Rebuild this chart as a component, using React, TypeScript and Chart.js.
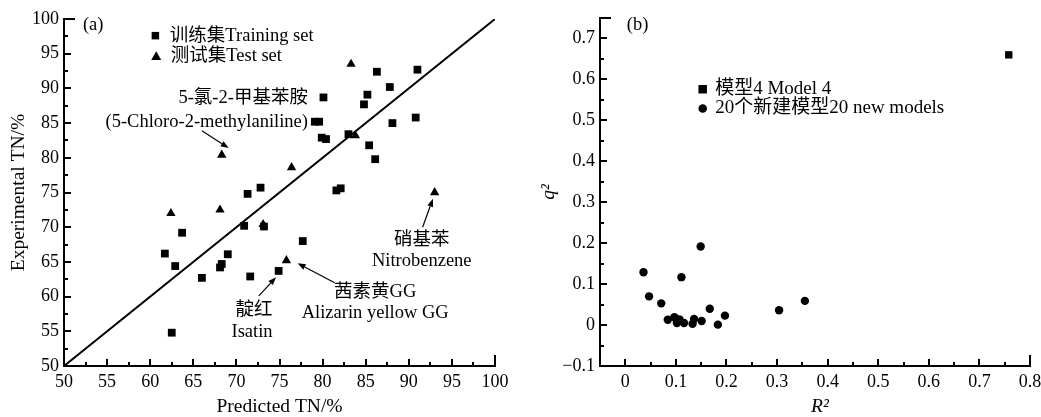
import React, { useEffect, useRef } from 'react';
import { Chart, registerables } from 'chart.js';

Chart.register(...registerables);

const FONT = "'Liberation Serif', 'Noto Sans CJK SC', serif";

// ---------- Panel (a) data ----------
const trainingPredicted = [62.5, 61.7, 62.9, 63.7, 66.0, 68.1, 68.3, 69.0, 71.6, 70.9, 74.9, 77.7, 73.2, 71.3, 72.8, 81.6, 82.1, 80.1, 79.1, 79.6, 79.9, 80.4, 86.3, 91.0, 87.8, 85.2, 84.8, 88.1, 90.8, 83.0, 85.4, 86.1];
const trainingExperimental = [54.8, 66.2, 64.4, 69.2, 62.7, 64.2, 64.7, 66.1, 62.9, 70.2, 63.7, 68.0, 70.1, 74.8, 75.7, 75.3, 75.6, 88.7, 85.2, 85.2, 82.9, 82.7, 92.4, 92.7, 90.2, 89.1, 87.7, 85.0, 85.8, 83.4, 81.8, 79.8];
const testPredicted = [62.4, 68.1, 68.3, 73.1, 75.8, 76.4, 83.3, 83.8, 93.0];
const testExperimental = [72.0, 72.5, 80.4, 70.4, 65.2, 78.6, 93.5, 83.2, 75.0];
const identityLine = [50, 100];
const axisARange = [50, 100];
const axisAStep = 5;

// ---------- Panel (b) data ----------
const newModelR2 = [0.036, 0.047, 0.071, 0.084, 0.097, 0.102, 0.107, 0.116, 0.111, 0.133, 0.136, 0.151, 0.149, 0.167, 0.183, 0.197, 0.304, 0.355];
const newModelQ2 = [0.129, 0.070, 0.053, 0.013, 0.019, 0.005, 0.014, 0.005, 0.117, 0.003, 0.015, 0.010, 0.192, 0.040, 0.001, 0.023, 0.036, 0.059];
const model4R2 = [0.758];
const model4Q2 = [0.660];
const axisBXRange = [-0.05, 0.8];
const axisBYRange = [-0.1, 0.75];
const axisBStep = 0.1;

// ---------- Annotations (data coordinates) ----------
const leftNotes = [
  { text: '(a)', x: 52.2, y: 99.1, align: 'left' },
  { text: '5-氯-2-甲基苯胺', x: 78.3, y: 88.6, align: 'right' },
  { text: '(5-Chloro-2-methylaniline)', x: 78.3, y: 85.2, align: 'right' },
  { text: '硝基苯', x: 91.5, y: 68.2, align: 'center' },
  { text: 'Nitrobenzene', x: 91.5, y: 65.1, align: 'center' },
  { text: '茜素黄GG', x: 86.1, y: 60.7, align: 'center' },
  { text: 'Alizarin yellow GG', x: 86.1, y: 57.6, align: 'center' },
  { text: '靛红', x: 74.2, y: 58.1, align: 'right' },
  { text: 'Isatin', x: 74.2, y: 54.9, align: 'right' },
];
const leftArrows = [
  { from: [66.0, 83.9], to: [69.1, 81.4] },
  { from: [91.6, 70.0], to: [92.8, 74.1] },
  { from: [81.4, 62.0], to: [77.1, 64.8] },
  { from: [72.6, 60.1], to: [74.6, 62.8] },
];
const leftLegend = [
  { marker: 'rect', x: 60.6, y: 97.6, text: '训练集Training set' },
  { marker: 'triangle', x: 60.7, y: 94.6, text: '测试集Test set' },
];
const rightNotes = [{ text: '(b)', x: 0.003, y: 0.732, align: 'left' }];
const rightArrows: any[] = [];
const rightLegend = [
  { marker: 'rect', x: 0.153, y: 0.576, text: '模型4 Model 4' },
  { marker: 'circle', x: 0.153, y: 0.529, text: '20个新建模型20 new models' },
];

function drawMarker(ctx: CanvasRenderingContext2D, kind: string, x: number, y: number, s: number) {
  ctx.beginPath();
  if (kind === 'rect') {
    ctx.rect(x - s / 2, y - s / 2, s, s);
  } else if (kind === 'triangle') {
    const h = s * 0.866;
    ctx.moveTo(x, y - h * 0.6);
    ctx.lineTo(x + s / 2, y + h * 0.4);
    ctx.lineTo(x - s / 2, y + h * 0.4);
    ctx.closePath();
  } else {
    ctx.arc(x, y, s / 2, 0, Math.PI * 2);
  }
  ctx.fill();
}

const decorPlugin = {
  id: 'decor',
  afterDraw(chart: any, _args: any, opts: any) {
    const ctx: CanvasRenderingContext2D = chart.ctx;
    const xs = chart.scales.x;
    const ys = chart.scales.y;
    const area = chart.chartArea;
    ctx.save();
    ctx.strokeStyle = '#000';
    ctx.fillStyle = '#000';
    ctx.lineWidth = 2;
    // inward major / minor ticks
    const drawTicks = (scale: any, minor: number, horizontal: boolean) => {
      const k0 = Math.ceil(scale.min / minor - 1e-6);
      const k1 = Math.floor(scale.max / minor + 1e-6);
      for (let k = k0; k <= k1; k++) {
        const v = k * minor;
        const isEnd = Math.abs(v - scale.max) < 1e-6;
        const isMajor = k % 2 === 0;
        const len = isEnd ? opts.endLen : isMajor ? opts.majorLen : opts.minorLen;
        const p = Math.round(scale.getPixelForValue(v));
        ctx.beginPath();
        if (horizontal) {
          ctx.moveTo(p, area.bottom);
          ctx.lineTo(p, area.bottom - len);
        } else {
          ctx.moveTo(area.left, p);
          ctx.lineTo(area.left + len, p);
        }
        ctx.stroke();
      }
    };
    drawTicks(xs, opts.xMinor, true);
    drawTicks(ys, opts.yMinor, false);

    // notes
    ctx.textBaseline = 'middle';
    ctx.font = `${opts.noteSize}px ${FONT}`;
    for (const n of opts.notes) {
      ctx.textAlign = n.align;
      ctx.fillText(n.text, xs.getPixelForValue(n.x), ys.getPixelForValue(n.y));
    }
    // arrows
    ctx.lineWidth = 1.2;
    for (const a of opts.arrows) {
      const x1 = xs.getPixelForValue(a.from[0]);
      const y1 = ys.getPixelForValue(a.from[1]);
      const x2 = xs.getPixelForValue(a.to[0]);
      const y2 = ys.getPixelForValue(a.to[1]);
      const ang = Math.atan2(y2 - y1, x2 - x1);
      const hl = 8, hw = 3;
      const bx = x2 - Math.cos(ang) * hl;
      const by = y2 - Math.sin(ang) * hl;
      ctx.beginPath();
      ctx.moveTo(x1, y1);
      ctx.lineTo(bx, by);
      ctx.stroke();
      ctx.beginPath();
      ctx.moveTo(x2, y2);
      ctx.lineTo(bx + Math.sin(ang) * hw, by - Math.cos(ang) * hw);
      ctx.lineTo(bx - Math.sin(ang) * hw, by + Math.cos(ang) * hw);
      ctx.closePath();
      ctx.fill();
    }
    // legend
    ctx.font = `${opts.legendSize}px ${FONT}`;
    ctx.textAlign = 'left';
    for (const l of opts.legend) {
      const px = xs.getPixelForValue(l.x);
      const py = ys.getPixelForValue(l.y);
      drawMarker(ctx, l.marker, px, py, l.marker === 'triangle' ? 10 : opts.legendMarker);
      ctx.fillText(l.text, px + opts.legendGap, py);
    }
    ctx.restore();
  },
};

function axisCommon(min: number, max: number, step: number, title: string, titleItalic: boolean, titlePad: any, fit: (s: any) => void, cb?: any) {
  return {
    type: 'linear',
    min,
    max,
    ticks: {
      stepSize: step,
      includeBounds: false,
      autoSkip: false,
      maxRotation: 0,
      color: '#000',
      padding: 5,
      font: { family: FONT, size: 18 },
      ...(cb ? { callback: cb } : {}),
    },
    grid: { display: true, drawOnChartArea: false, drawTicks: false },
    border: { display: true, color: '#000', width: 2 },
    title: {
      display: true,
      text: title,
      color: '#000',
      padding: titlePad,
      font: { family: FONT, size: 19.5, style: titleItalic ? 'italic' : 'normal' },
    },
    afterFit: fit,
  };
}

function leftConfig(): any {
  const training = trainingPredicted.map((x, i) => ({ x, y: trainingExperimental[i] }));
  const test = testPredicted.map((x, i) => ({ x, y: testExperimental[i] }));
  const line = identityLine.map((v) => ({ x: v, y: v }));
  return {
    type: 'scatter',
    data: {
      datasets: [
        { data: line, showLine: true, borderColor: '#000', borderWidth: 2, pointRadius: 0, order: 3 },
        { data: training, pointStyle: 'rect', pointRadius: 5.5, backgroundColor: '#000', borderWidth: 0, order: 2 },
        { data: test, pointStyle: 'triangle', pointRadius: 5.4, backgroundColor: '#000', borderWidth: 0, order: 1 },
      ],
    },
    options: {
      animation: false,
      responsive: false,
      layout: { padding: { top: 19, right: 25, left: 0, bottom: 0 } },
      plugins: {
        legend: { display: false },
        tooltip: { enabled: false },
        decor: {
          xMinor: axisAStep / 2, yMinor: axisAStep / 2,
          majorLen: 7, minorLen: 4, endLen: 11,
          notes: leftNotes, arrows: leftArrows, legend: leftLegend,
          noteSize: 18.5, legendSize: 18.5, legendMarker: 7.5, legendGap: 14.5,
        },
      },
      scales: {
        x: axisCommon(axisARange[0], axisARange[1], axisAStep, 'Predicted TN/%', false, { top: 0, bottom: -2 }, (s: any) => { s.height = 51; s.paddingLeft = 0; s.paddingRight = 0; }),
        y: axisCommon(axisARange[0], axisARange[1], axisAStep, 'Experimental TN/%', false, { top: 7, bottom: 0 }, (s: any) => { s.width = 64; s.paddingTop = 0; s.paddingBottom = 0; }),
      },
    },
    plugins: [decorPlugin],
  };
}

const fmtB = (v: any) => {
  const n = Number(v);
  if (Math.abs(n) < 1e-9) return '0';
  return n < 0 ? '−' + Math.abs(n).toFixed(1) : n.toFixed(1);
};

function rightConfig(): any {
  const models = newModelR2.map((x, i) => ({ x, y: newModelQ2[i] }));
  const model4 = model4R2.map((x, i) => ({ x, y: model4Q2[i] }));
  return {
    type: 'scatter',
    data: {
      datasets: [
        { data: model4, pointStyle: 'rect', pointRadius: 5.2, backgroundColor: '#000', borderWidth: 0 },
        { data: models, pointStyle: 'circle', pointRadius: 4.2, backgroundColor: '#000', borderWidth: 0 },
      ],
    },
    options: {
      animation: false,
      responsive: false,
      layout: { padding: { top: 18, right: 11, left: 0, bottom: 0 } },
      plugins: {
        legend: { display: false },
        tooltip: { enabled: false },
        decor: {
          xMinor: axisBStep / 2, yMinor: axisBStep / 2,
          majorLen: 7, minorLen: 4, endLen: 11,
          notes: rightNotes, arrows: rightArrows, legend: rightLegend,
          noteSize: 18.5, legendSize: 19, legendMarker: 8.5, legendGap: 12.5,
        },
      },
      scales: {
        x: axisCommon(axisBXRange[0], axisBXRange[1], axisBStep, '  R²', true, { top: 0, bottom: -2 }, (s: any) => { s.height = 51; s.paddingLeft = 0; s.paddingRight = 0; }, fmtB),
        y: axisCommon(axisBYRange[0], axisBYRange[1], axisBStep, 'q²', true, { top: 17, bottom: 0 }, (s: any) => { s.width = 80; s.paddingTop = 0; s.paddingBottom = 0; }, fmtB),
      },
    },
    plugins: [decorPlugin],
  };
}

export default function App() {
  const leftRef = useRef<HTMLCanvasElement>(null);
  const rightRef = useRef<HTMLCanvasElement>(null);
  useEffect(() => {
    const c1 = new Chart(leftRef.current as HTMLCanvasElement, leftConfig());
    const c2 = new Chart(rightRef.current as HTMLCanvasElement, rightConfig());
    return () => {
      c1.destroy();
      c2.destroy();
    };
  }, []);
  return (
    <div style={{ position: 'absolute', left: 0, top: 0, width: 1041, height: 417, background: '#fff' }}>
      <canvas ref={leftRef} width={520} height={417} style={{ position: 'absolute', left: 0, top: 0, width: 520, height: 417 }} />
      <canvas ref={rightRef} width={521} height={417} style={{ position: 'absolute', left: 520, top: 0, width: 521, height: 417 }} />
    </div>
  );
}
